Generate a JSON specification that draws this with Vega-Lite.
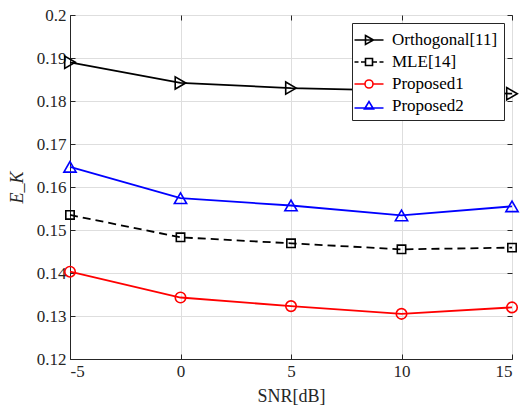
{
  "$schema": "https://vega.github.io/schema/vega-lite/v6.json",
  "autosize": "none",
  "width": 442,
  "height": 344,
  "padding": {"left": 70, "top": 15, "right": 8, "bottom": 50},
  "background": "white",
  "config": {
    "font": "Liberation Serif",
    "view": {"stroke": "#262626", "strokeWidth": 1},
    "legend": {"labelFont": "Liberation Serif", "symbolOpacity": 1},
    "axis": {
      "labelFont": "Liberation Serif",
      "titleFont": "Liberation Serif",
      "labelFontSize": 17,
      "titleFontSize": 18,
      "titleFontWeight": "normal",
      "labelColor": "#262626",
      "titleColor": "#262626",
      "domainColor": "#262626",
      "tickColor": "#262626",
      "gridColor": "#dedede",
      "tickSize": -5,
      "labelPadding": 9
    }
  },
  "data": {
    "values": [
      {"snr": -5, "series": "Orthogonal[11]", "ek": 0.1890},
      {"snr": 0, "series": "Orthogonal[11]", "ek": 0.1842},
      {"snr": 5, "series": "Orthogonal[11]", "ek": 0.1830},
      {"snr": 10, "series": "Orthogonal[11]", "ek": 0.1824},
      {"snr": 15, "series": "Orthogonal[11]", "ek": 0.1817},
      {"snr": -5, "series": "MLE[14]", "ek": 0.1535},
      {"snr": 0, "series": "MLE[14]", "ek": 0.1483},
      {"snr": 5, "series": "MLE[14]", "ek": 0.1469},
      {"snr": 10, "series": "MLE[14]", "ek": 0.1455},
      {"snr": 15, "series": "MLE[14]", "ek": 0.1459},
      {"snr": -5, "series": "Proposed1", "ek": 0.1403},
      {"snr": 0, "series": "Proposed1", "ek": 0.1343},
      {"snr": 5, "series": "Proposed1", "ek": 0.1323},
      {"snr": 10, "series": "Proposed1", "ek": 0.1305},
      {"snr": 15, "series": "Proposed1", "ek": 0.1320},
      {"snr": -5, "series": "Proposed2", "ek": 0.1647},
      {"snr": 0, "series": "Proposed2", "ek": 0.1574},
      {"snr": 5, "series": "Proposed2", "ek": 0.1557},
      {"snr": 10, "series": "Proposed2", "ek": 0.1534},
      {"snr": 15, "series": "Proposed2", "ek": 0.1555}
    ]
  },
  "encoding": {
    "x": {"field": "snr", "type": "quantitative", "scale": {"domain": [-5, 15], "nice": false}, "axis": null},
    "y": {"field": "ek", "type": "quantitative", "scale": {"domain": [0.12, 0.2], "nice": false, "zero": false}, "axis": null}
  },
  "layer": [
    {
      "mark": {"type": "point", "opacity": 0},
      "encoding": {
        "x": {"field": "snr", "type": "quantitative",
              "axis": {"orient": "top", "values": [-5, 0, 5, 10, 15], "labels": false, "grid": false, "domain": false, "title": null}},
        "y": {"field": "ek", "type": "quantitative",
              "axis": {"orient": "right", "values": [0.12, 0.13, 0.14, 0.15, 0.16, 0.17, 0.18, 0.19, 0.2], "labels": false, "grid": false, "domain": false, "title": null}}
      }
    },
    {
      "transform": [{"filter": "datum.series !== 'MLE[14]'"}],
      "mark": {"type": "line", "strokeWidth": 1.8, "opacity": 1},
      "encoding": {
        "x": {"field": "snr", "type": "quantitative",
              "axis": {"orient": "bottom", "values": [-5, 0, 5, 10, 15], "labelExpr": "datum.value + ''", "title": "SNR[dB]", "grid": true, "titlePadding": 8}},
        "y": {"field": "ek", "type": "quantitative",
              "axis": {"orient": "left", "values": [0.12, 0.13, 0.14, 0.15, 0.16, 0.17, 0.18, 0.19, 0.2], "format": ".2~f", "title": "E_K", "titleFontStyle": "italic", "grid": true, "titlePadding": 10}},
        "color": {
          "field": "series", "type": "nominal",
          "scale": {"domain": ["Orthogonal[11]", "MLE[14]", "Proposed1", "Proposed2"], "range": ["#000000", "#000000", "#ff0000", "#0000ff"]},
          "legend": {
            "title": null,
            "orient": "top-right",
            "offset": 8,
            "padding": 6,
            "fillColor": "white",
            "strokeColor": "#262626",
            "labelFont": "Liberation Serif",
            "labelFontSize": 17,
            "labelColor": "#000000",
            "labelOffset": 12,
            "symbolSize": 400,
            "symbolStrokeWidth": 1.6,
            "symbolOpacity": 1,
            "symbolFillColor": "transparent",
            "rowPadding": 3,
            "symbolType": {"expr": "datum.label === 'Orthogonal[11]' ? 'M-1.45,0H1.45M-0.35,-0.45L0.45,0L-0.35,0.45Z' : datum.label === 'MLE[14]' ? 'M-1.45,0H-1.05M-0.8,0H-0.35M0.35,0H0.8M1.05,0H1.45M-0.35,-0.35H0.35V0.35H-0.35Z' : datum.label === 'Proposed1' ? 'M-1.45,0H-0.4M0.4,0H1.45M0.4,0A0.4,0.4,0,1,1,-0.4,0A0.4,0.4,0,1,1,0.4,0Z' : 'M-1.45,0.2H1.45M-0.45,0.3L0,-0.45L0.45,0.3Z'"}
          }
        }
      }
    },
    {
      "transform": [{"filter": "datum.series === 'MLE[14]'"}],
      "mark": {"type": "line", "strokeWidth": 1.8, "strokeDash": [8, 5], "opacity": 1},
      "encoding": {"color": {"field": "series", "type": "nominal"}}
    },
    {
      "transform": [{"filter": "datum.series === 'Orthogonal[11]'"}],
      "mark": {"type": "point", "filled": false, "strokeWidth": 1.6, "shape": "triangle-right", "size": 150, "opacity": 1},
      "encoding": {"color": {"field": "series", "type": "nominal"}}
    },
    {
      "transform": [{"filter": "datum.series === 'MLE[14]'"}],
      "mark": {"type": "point", "filled": false, "strokeWidth": 1.6, "shape": "square", "size": 70, "opacity": 1},
      "encoding": {"color": {"field": "series", "type": "nominal"}}
    },
    {
      "transform": [{"filter": "datum.series === 'Proposed1'"}],
      "mark": {"type": "point", "filled": false, "strokeWidth": 1.6, "shape": "circle", "size": 110, "opacity": 1},
      "encoding": {"color": {"field": "series", "type": "nominal"}}
    },
    {
      "transform": [{"filter": "datum.series === 'Proposed2'"}],
      "mark": {"type": "point", "filled": false, "strokeWidth": 1.6, "shape": "triangle-up", "size": 150, "opacity": 1},
      "encoding": {"color": {"field": "series", "type": "nominal"}}
    }
  ],
  "resolve": {"axis": {"x": "independent", "y": "independent"}}
}
